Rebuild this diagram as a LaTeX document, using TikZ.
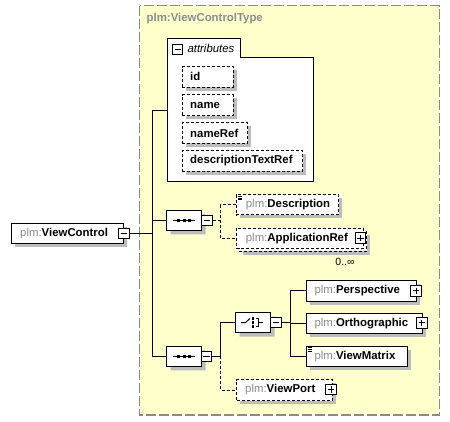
\documentclass[tikz,border=0pt]{standalone}
\usepackage{fontspec}
\setmainfont{Liberation Sans}
\usetikzlibrary{shapes.misc}
\definecolor{bgyellow}{HTML}{FFFFCC}
\definecolor{plmgray}{HTML}{8C8C8C}
\definecolor{shgray}{HTML}{BCBCBC}
\definecolor{framegray}{HTML}{8A8A8A}
\newcommand\plm[1]{\textcolor{plmgray}{plm:}\textbf{#1}}
% \elem{name}{x}{y}{w}{h}{style}
\newcommand\elem[6]{%
  \fill[shgray] ([shift={(4,4)}]#2,#3) rectangle ++(#4,#5);
  \node[#6,minimum width=#4pt,minimum height=#5pt] (#1) at (#2,#3) {};}
\newcommand\octo[3]{%
  \node[octo,draw=none,fill=shgray] at ([shift={(4,4)}]#2,#3) {};
  \node[octo] (#1) at (#2,#3) {};}
\tikzset{
  elbox/.style={draw=black,line width=1pt,fill=white,anchor=north west,inner sep=0pt},
  optbox/.style={elbox,dash pattern=on 3pt off 2pt},
  lbl/.style={anchor=west,inner sep=0pt,font=\fontsize{11.4}{13}\selectfont},
  tog/.style={draw=black,line width=1pt,fill=white,minimum size=10.6pt,inner sep=0pt},
  minusbox/.style={tog,path picture={\draw[line width=1pt] ([xshift=2.2pt]path picture bounding box.west) -- ([xshift=-2.2pt]path picture bounding box.east);}},
  plusbox/.style={tog,path picture={\draw[line width=1pt] ([xshift=2.2pt]path picture bounding box.west) -- ([xshift=-2.2pt]path picture bounding box.east);
     \draw[line width=1pt] ([yshift=-2.2pt]path picture bounding box.north) -- ([yshift=2.2pt]path picture bounding box.south);}},
  octo/.style={chamfered rectangle,chamfered rectangle xsep=6pt,draw=black,line width=1pt,fill=white,minimum width=35pt,minimum height=20pt,inner sep=0pt},
  conn/.style={line width=1pt},
  optconn/.style={line width=1pt,dash pattern=on 3pt off 2pt},
}
\begin{document}
\begin{tikzpicture}[x=1pt,y=-1pt]
\useasboundingbox (0,0) rectangle (450,421);
% complex type frame
\draw[fill=bgyellow,draw=framegray,line width=1.5pt,dash pattern=on 10pt off 3pt] (139.5,5.5) rectangle (439.3,415);
\node[lbl,text=plmgray,font=\fontsize{11.4}{13}\selectfont\bfseries] (title) at (146.5,19) {plm:ViewControlType};
% attributes
\draw[line width=1pt,fill=white] (167.3,181.7) -- (167.3,38.3) -- (240,38.3) -- (240,57.3) -- (313.3,57.3) -- (313.3,181.7) -- cycle;
\coordinate (attr) at (167.3,110);
\node[minusbox,minimum size=10pt] (attrm) at (177.8,49.5) {};
\node[lbl,font=\fontsize{11.4}{13}\selectfont\itshape] (attrt) at (187.3,48.5) {attributes};
\elem{id}{181.7}{66}{51}{20.7}{optbox}
\node[lbl] at ([xshift=8.3pt]id.west) {\textbf{id}};
\elem{name}{181.7}{94.3}{51}{20.7}{optbox}
\node[lbl] at ([xshift=8.3pt]name.west) {\textbf{name}};
\elem{nameRef}{181.7}{122.3}{65.6}{20.4}{optbox}
\node[lbl] at ([xshift=8.3pt]nameRef.west) {\textbf{nameRef}};
\elem{dtr}{181.7}{150.3}{120.6}{20.4}{optbox}
\node[lbl] at ([xshift=8.3pt]dtr.west) {\textbf{descriptionTextRef}};
% root element
\elem{vc}{10.7}{223.3}{112.6}{20}{elbox}
\node[lbl] (vct) at ([xshift=9.3pt]vc.west) {\plm{ViewControl}};
\node[minusbox] (vcm) at (123.7,233.3) {};
% trunk
\coordinate (t1) at (152.3,110);
\coordinate (t2) at (152.3,356.3);
% sequence 1
\octo{seq1}{184.2}{220.3}
\draw[conn] ([xshift=-11pt]seq1.center) -- ([xshift=11pt]seq1.center);
\foreach \dx in {-5.5,0,5.5} \fill ([xshift=\dx pt]seq1.center) +(-1.6,-1.6) rectangle +(1.6,1.6);
\node[minusbox] (seq1m) at (207,220.3) {};
% sequence 2
\octo{seq2}{184.2}{356.3}
\draw[conn] ([xshift=-11pt]seq2.center) -- ([xshift=11pt]seq2.center);
\foreach \dx in {-5.5,0,5.5} \fill ([xshift=\dx pt]seq2.center) +(-1.6,-1.6) rectangle +(1.6,1.6);
\node[minusbox] (seq2m) at (206.5,356.3) {};
% choice
\octo{ch}{253}{322.5}
\draw[conn] ([xshift=-12pt]ch.center) -- ([xshift=-7.5pt]ch.center) -- ([xshift=-3pt,yshift=4pt]ch.center);
\foreach \dy in {-4,0,4} \fill ([yshift=\dy pt]ch.center) +(-1.3,-1.3) rectangle +(1.3,1.3);
\draw[conn] ([xshift=2.5pt,yshift=4pt]ch.center) -- ([xshift=5.5pt,yshift=4pt]ch.center) -- ([xshift=5.5pt,yshift=-4pt]ch.center) -- ([xshift=2.5pt,yshift=-4pt]ch.center);
\draw[conn] ([xshift=5.5pt]ch.center) -- ([xshift=9.5pt]ch.center);
\node[minusbox] (chm) at (275.8,322.5) {};
% children of sequence 1
\elem{desc}{235.7}{194.3}{102.6}{20}{optbox}
\node[lbl] at ([xshift=10pt]desc.west) {\plm{Description}};
\foreach \dy in {1.8,3.6,5.4} \draw[line width=0.8pt] ([xshift=1.8pt,yshift=-\dy pt]desc.north west) -- ([xshift=6.5pt,yshift=-\dy pt]desc.north west);
\elem{apprefb}{238.7}{230.7}{127.6}{20}{optbox}
\node[optbox,minimum width=127.6pt,minimum height=20pt] (appref) at (235.7,227.7) {};
\node[lbl] at ([xshift=10pt]appref.west) {\plm{ApplicationRef}};
\node[plusbox] (apprefp) at (360.5,238) {};
\node[inner sep=0pt,font=\fontsize{10.5}{12}\selectfont] (mult) at (345,261.5) {0..∞};
% children of choice
\elem{persp}{305.7}{280}{110.3}{20.7}{elbox}
\node[lbl] at ([xshift=8.6pt]persp.west) {\plm{Perspective}};
\node[plusbox] (perspp) at (416,290.7) {};
\elem{ortho}{305.7}{312.7}{116}{20.6}{elbox}
\node[lbl] at ([xshift=8.6pt]ortho.west) {\plm{Orthographic}};
\node[plusbox] (orthop) at (421.7,322.7) {};
\elem{vmat}{305.7}{346}{101}{20}{elbox}
\node[lbl] at ([xshift=8.6pt]vmat.west) {\plm{ViewMatrix}};
\foreach \dy in {1.8,3.6,5.4} \draw[line width=0.8pt] ([xshift=1.8pt,yshift=-\dy pt]vmat.north west) -- ([xshift=6.5pt,yshift=-\dy pt]vmat.north west);
% viewport
\elem{vport}{236}{379}{95.7}{21}{optbox}
\node[lbl] at ([xshift=9pt]vport.west) {\plm{ViewPort}};
\node[plusbox] (vportp) at (331,389.5) {};
% connectors
\coordinate (b1) at (220.7,0);
\coordinate (b2) at (220.7,0);
\coordinate (b3) at (290.7,0);
\draw[conn] (attr) -- (t1) -- (t2) -- (seq2.west);
\draw[conn] (vcm.east) -- (vcm.east -| t1);
\draw[conn] (seq1.west -| t1) -- (seq1.west);
\draw[optconn] (seq1m.east) -- (seq1m.east -| b1);
\draw[optconn] (desc.west) -- (desc.west -| b1) -- (appref.west -| b1) -- (appref.west);
\draw[conn] (ch.west) -- (ch.west -| b2) -- (seq2m.east -| b2) -- (seq2m.east);
\draw[optconn] (seq2m.east -| b2) -- (vport.west -| b2) -- (vport.west);
\draw[conn] (chm.east) -- (chm.east -| b3);
\draw[conn] (persp.west) -- (persp.west -| b3) -- (vmat.west -| b3) -- (vmat.west);
\draw[conn] (ortho.west -| b3) -- (ortho.west);
\end{tikzpicture}
\end{document}
